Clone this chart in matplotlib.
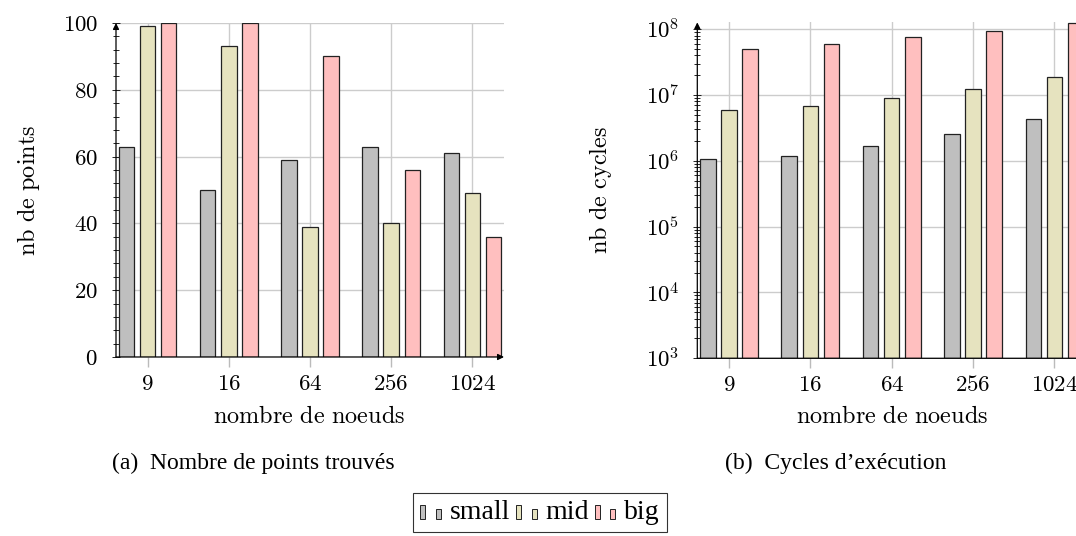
import numpy as np
import matplotlib
matplotlib.use("Agg")
import matplotlib.pyplot as plt
from matplotlib.legend_handler import HandlerBase
from matplotlib.patches import Rectangle
from matplotlib.ticker import MultipleLocator, LogLocator, NullFormatter, FuncFormatter, FixedLocator

plt.rcParams['mathtext.fontset'] = 'cm'
plt.rcParams['font.family'] = ['Liberation Serif', 'DejaVu Serif']

# data
nodes = ['9', '16', '64', '256', '1024']
series = ['small', 'mid', 'big']
points_small = [63, 50, 59, 63, 61]
points_mid = [99, 93, 39, 40, 49]
points_big = [100, 100, 90, 56, 36]
cycles_small = [1.07e6, 1.19e6, 1.71e6, 2.55e6, 4.4e6]
cycles_mid = [5.98e6, 6.88e6, 9.1e6, 1.25e7, 1.9e7]
cycles_big = [5.0e7, 5.9e7, 7.6e7, 9.5e7, 1.26e8]

colors = ['#bfbfbf', '#e6e3bf', '#ffbfbf']
edge = '#222222'
grid_c = '#cccccc'
W, H = 1076, 536
FS_TICK = 16.5
FS_LAB = 17.5

fig = plt.figure(figsize=(W / 100, H / 100), dpi=100)
ax1 = fig.add_axes([116 / W, 1 - 357 / H, 388 / W, 334 / H])
ax2 = fig.add_axes([697.3 / W, 1 - 358.3 / H, 388.8 / W, 335.9 / H])

x = np.arange(len(nodes))
offs = [-0.26, 0.0, 0.26]
bw = 0.19


def style_axis(ax):
    for s in ax.spines.values():
        s.set_visible(False)
    ax.set_axisbelow(True)
    ax.grid(True, which='major', color=grid_c, lw=1)
    ax.set_xlim(-0.39, 4.39)
    ax.xaxis.set_major_locator(FixedLocator(x))
    ax.set_xticklabels([f'${n}$' for n in nodes], fontsize=FS_TICK)
    ax.tick_params(axis='x', direction='out', length=7, width=1, color='#bbbbbb', pad=5)
    ax.tick_params(axis='y', which='both', direction='inout', width=0.6, labelsize=FS_TICK, pad=10)
    ax.tick_params(axis='y', which='major', length=6)
    ax.tick_params(axis='y', which='minor', length=5)
    arrow = dict(arrowstyle='-|>', lw=0.9, color='black', mutation_scale=9, shrinkA=0, shrinkB=0)
    ax.annotate('', xy=(0, 1.0), xytext=(0, 0), xycoords='axes fraction', arrowprops=arrow, zorder=5)
    ax.annotate('', xy=(1.0, 0), xytext=(0, 0), xycoords='axes fraction', arrowprops=arrow, zorder=5)


# (a) points
for vals, o, c in zip([points_small, points_mid, points_big], offs, colors):
    ax1.bar(x + o, vals, width=bw, color=c, edgecolor=edge, lw=0.9, zorder=2)
style_axis(ax1)
ax1.set_ylim(0, 100)
ax1.yaxis.set_major_locator(MultipleLocator(20))
ax1.yaxis.set_minor_locator(MultipleLocator(4))
ax1.yaxis.set_major_formatter(FuncFormatter(lambda v, p: f'${v:g}$'))

# (b) cycles
ax2.set_yscale('log')
for vals, o, c in zip([cycles_small, cycles_mid, cycles_big], offs, colors):
    ax2.bar(x + o, np.array(vals) - 1e3, width=bw, bottom=1e3, color=c, edgecolor=edge, lw=0.9, zorder=2)
style_axis(ax2)
ax2.set_ylim(1e3, 1.27e8)
ax2.yaxis.set_major_locator(LogLocator(base=10, numticks=10))
ax2.yaxis.set_minor_locator(LogLocator(base=10, subs=np.arange(2, 10), numticks=20))
ax2.yaxis.set_minor_formatter(NullFormatter())
ax2.yaxis.set_major_formatter(FuncFormatter(lambda v, p: f'$10^{{{int(round(np.log10(v)))}}}$'))

# labels
fig.text(28 / W, 1 - 190 / H, r'$\mathrm{nb\ de\ points}$', rotation=90, ha='center', va='center', fontsize=FS_LAB)
fig.text(600 / W, 1 - 190 / H, r'$\mathrm{nb\ de\ cycles}$', rotation=90, ha='center', va='center', fontsize=FS_LAB)
fig.text(309 / W, 1 - 417 / H, r'$\mathrm{nombre\ de\ noeuds}$', ha='center', va='center', fontsize=FS_LAB)
fig.text(891.7 / W, 1 - 417 / H, r'$\mathrm{nombre\ de\ noeuds}$', ha='center', va='center', fontsize=FS_LAB)

fig.text(253 / W, 1 - 463 / H, '(a)  Nombre de points trouvés', ha='center', va='center', fontsize=17)
fig.text(836 / W, 1 - 463 / H, '(b)  Cycles d\u2019exécution', ha='center', va='center', fontsize=17)


class TwoBars(HandlerBase):
    def create_artists(self, legend, orig_handle, xdescent, ydescent, width, height, fontsize, trans):
        fc = orig_handle.get_facecolor()
        bwid = width * 0.24
        r1 = Rectangle((-xdescent, -ydescent), bwid, height * 0.74,
                       facecolor=fc, edgecolor=edge, lw=0.7, transform=trans)
        r2 = Rectangle((-xdescent + width * 0.76, -ydescent), bwid, height * 0.53,
                       facecolor=fc, edgecolor=edge, lw=0.7, transform=trans)
        return [r1, r2]


handles = [Rectangle((0, 0), 1, 1, facecolor=c) for c in colors]
leg = fig.legend(handles, series, loc='upper center', bbox_to_anchor=(540 / W, 1 - 493 / H),
                 ncol=3, fontsize=20, frameon=True, fancybox=False, edgecolor='black',
                 handler_map={Rectangle: TwoBars()}, handlelength=0.75, handletextpad=0.32,
                 columnspacing=0.2, borderpad=0.25, borderaxespad=0)
leg.get_frame().set_linewidth(0.8)

fig.savefig('out.png', dpi=100)
